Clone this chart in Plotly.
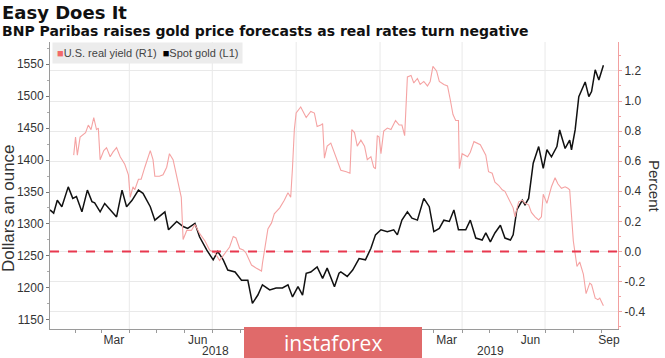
import plotly.graph_objects as go

# ---------------- data ----------------
gold_dates = [
    "2018-01-04", "2018-01-08", "2018-01-12", "2018-01-17", "2018-01-24", "2018-01-29",
    "2018-02-02", "2018-02-08", "2018-02-14", "2018-02-19", "2018-02-22", "2018-02-28",
    "2018-03-05", "2018-03-11", "2018-03-18", "2018-03-24", "2018-03-29", "2018-04-04",
    "2018-04-11", "2018-04-16", "2018-04-24", "2018-04-29", "2018-05-10", "2018-05-14",
    "2018-05-23", "2018-05-30", "2018-06-04", "2018-06-12", "2018-06-17", "2018-06-25",
    "2018-07-02", "2018-07-07", "2018-07-13", "2018-07-18", "2018-07-26", "2018-08-02",
    "2018-08-09", "2018-08-14", "2018-08-20", "2018-08-25", "2018-09-02", "2018-09-09",
    "2018-09-16", "2018-09-22", "2018-09-27", "2018-10-03", "2018-10-08", "2018-10-12",
    "2018-10-17", "2018-10-24", "2018-10-30", "2018-11-04", "2018-11-12", "2018-11-17",
    "2018-11-19", "2018-11-26", "2018-12-02", "2018-12-09", "2018-12-16", "2018-12-22",
    "2018-12-27", "2019-01-02", "2019-01-09", "2019-01-16", "2019-01-20", "2019-01-25",
    "2019-01-31", "2019-02-05", "2019-02-11", "2019-02-18", "2019-02-24", "2019-03-01",
    "2019-03-07", "2019-03-12", "2019-03-18", "2019-03-23", "2019-03-28", "2019-04-05",
    "2019-04-10", "2019-04-16", "2019-04-23", "2019-04-27", "2019-05-02", "2019-05-07",
    "2019-05-13", "2019-05-18", "2019-05-24", "2019-05-27", "2019-05-31", "2019-06-06",
    "2019-06-09", "2019-06-13", "2019-06-16", "2019-06-18", "2019-06-24", "2019-06-29",
    "2019-07-03", "2019-07-08", "2019-07-14", "2019-07-17", "2019-07-23", "2019-07-28",
    "2019-07-30", "2019-08-03", "2019-08-07", "2019-08-10", "2019-08-14", "2019-08-18",
    "2019-08-21", "2019-08-25", "2019-08-29", "2019-09-03",
]
gold_values = [
    1322, 1317, 1337, 1327, 1358, 1340,
    1343, 1319, 1353, 1335, 1333, 1319,
    1332, 1322, 1311, 1353, 1327, 1337,
    1353, 1348, 1327, 1306, 1319, 1291,
    1304, 1296, 1293, 1301, 1280, 1259,
    1244, 1257, 1244, 1228, 1225, 1212,
    1212, 1176, 1189, 1205, 1197, 1200,
    1200, 1205, 1186, 1202, 1189, 1223,
    1225, 1233, 1215, 1231, 1202, 1223,
    1225, 1218, 1228, 1246, 1244, 1262,
    1283, 1291, 1288, 1291, 1283, 1306,
    1319, 1309, 1306, 1340, 1327, 1288,
    1293, 1306, 1304, 1322, 1291, 1291,
    1306, 1278, 1275, 1286, 1272, 1286,
    1298, 1278, 1275, 1283, 1322, 1337,
    1330, 1340, 1374, 1395, 1421, 1387,
    1416, 1405, 1421, 1447, 1418, 1431,
    1416, 1447, 1499, 1509, 1522, 1499,
    1507, 1541, 1525, 1548,
]

yield_dates = [
    "2018-01-30", "2018-02-01", "2018-02-03", "2018-02-06", "2018-02-12", "2018-02-15",
    "2018-02-18", "2018-02-21", "2018-02-24", "2018-02-26", "2018-02-28", "2018-03-04",
    "2018-03-07", "2018-03-11", "2018-03-14", "2018-03-18", "2018-03-22", "2018-03-24",
    "2018-03-27", "2018-03-31", "2018-04-02", "2018-04-05", "2018-04-07", "2018-04-11",
    "2018-04-14", "2018-04-18", "2018-04-24", "2018-04-27", "2018-04-29", "2018-05-04",
    "2018-05-08", "2018-05-12", "2018-05-15", "2018-05-19", "2018-05-23", "2018-05-26",
    "2018-05-28", "2018-05-30", "2018-06-03", "2018-06-08", "2018-06-12", "2018-06-17",
    "2018-06-23", "2018-06-28", "2018-07-04", "2018-07-09", "2018-07-15", "2018-07-20",
    "2018-07-24", "2018-07-27", "2018-07-31", "2018-08-04", "2018-08-07", "2018-08-13",
    "2018-08-18", "2018-08-24", "2018-08-25", "2018-08-31", "2018-09-04", "2018-09-07",
    "2018-09-13", "2018-09-18", "2018-09-22", "2018-09-25", "2018-09-27", "2018-09-29",
    "2018-10-01", "2018-10-06", "2018-10-12", "2018-10-17", "2018-10-21", "2018-10-24",
    "2018-10-28", "2018-10-30", "2018-11-01", "2018-11-04", "2018-11-08", "2018-11-12",
    "2018-11-15", "2018-11-19", "2018-11-25", "2018-11-29", "2018-12-01", "2018-12-04",
    "2018-12-07", "2018-12-11", "2018-12-15", "2018-12-18", "2018-12-22", "2018-12-25",
    "2018-12-27", "2018-12-29", "2018-12-31", "2019-01-02", "2019-01-05", "2019-01-09",
    "2019-01-13", "2019-01-18", "2019-01-22", "2019-01-25", "2019-01-28", "2019-01-31",
    "2019-02-04", "2019-02-07", "2019-02-11", "2019-02-14", "2019-02-18", "2019-02-22",
    "2019-02-25", "2019-02-28", "2019-03-04", "2019-03-07", "2019-03-12", "2019-03-16",
    "2019-03-19", "2019-03-22", "2019-03-25", "2019-03-28", "2019-03-29", "2019-04-01",
    "2019-04-07", "2019-04-10", "2019-04-14", "2019-04-17", "2019-04-21", "2019-04-27",
    "2019-04-30", "2019-05-04", "2019-05-07", "2019-05-11", "2019-05-15", "2019-05-18",
    "2019-05-22", "2019-05-27", "2019-05-29", "2019-06-02", "2019-06-06", "2019-06-09",
    "2019-06-13", "2019-06-16", "2019-06-20", "2019-06-24", "2019-06-27", "2019-06-29",
    "2019-07-03", "2019-07-05", "2019-07-08", "2019-07-12", "2019-07-15", "2019-07-19",
    "2019-07-23", "2019-07-26", "2019-07-28", "2019-08-01", "2019-08-05", "2019-08-08",
    "2019-08-12", "2019-08-15", "2019-08-19", "2019-08-21", "2019-08-25", "2019-08-28",
    "2019-08-30", "2019-09-03",
]
yield_values = [
    0.64, 0.76, 0.64, 0.76, 0.79, 0.84,
    0.81, 0.89, 0.81, 0.82, 0.61, 0.67,
    0.69, 0.63, 0.66, 0.69, 0.63, 0.61,
    0.58, 0.51, 0.36, 0.43, 0.41, 0.48,
    0.48, 0.56, 0.67, 0.61, 0.50, 0.50,
    0.51, 0.56, 0.65, 0.61, 0.50, 0.41,
    0.36, 0.08, 0.14, 0.14, 0.18, 0.12,
    0.07, 0.01, -0.01, -0.06, -0.01, 0.03,
    0.10, 0.09, 0.02, 0.01, -0.01, -0.09,
    -0.11, -0.13, -0.08, 0.15, 0.19, 0.25,
    0.29, 0.34, 0.39, 0.36, 0.56, 0.81,
    0.92, 0.96, 0.89, 0.93, 0.92, 0.83,
    0.84, 0.85, 0.62, 0.70, 0.72, 0.65,
    0.60, 0.54, 0.53, 0.52, 0.81, 0.79,
    0.70, 0.74, 0.70, 0.61, 0.63, 0.56,
    0.55, 0.77, 0.76, 0.65, 0.80, 0.82,
    0.81, 0.87, 0.84, 0.84, 0.77, 1.16,
    1.17, 1.12, 1.15, 1.11, 1.13, 1.10,
    1.13, 1.23, 1.20, 1.13, 1.11, 1.10,
    1.01, 0.91, 0.87, 0.87, 0.55, 0.65,
    0.63, 0.66, 0.73, 0.72, 0.71, 0.64,
    0.53, 0.52, 0.46, 0.44, 0.41, 0.40,
    0.35, 0.29, 0.23, 0.33, 0.34, 0.32,
    0.31, 0.26, 0.23, 0.21, 0.23, 0.38,
    0.32, 0.36, 0.43, 0.49, 0.45, 0.42,
    0.43, 0.42, 0.41, 0.07, -0.10, -0.07,
    -0.15, -0.28, -0.21, -0.22, -0.31, -0.32,
    -0.31, -0.36,
]

# visible month labels (Sep/Dec 2018 are hidden behind the watermark in the reference)
month_label_dates = ["2018-03-15", "2018-06-15", "2019-03-15", "2019-06-15", "2019-09-09"]
month_labels = ["Mar", "Jun", "Mar", "Jun", "Sep"]
year_label_dates = ["2018-07-04", "2019-05-02"]
year_labels = ["2018", "2019"]
quarter_starts = ["2018-04-01", "2018-07-01", "2018-10-01", "2019-01-01",
                  "2019-04-01", "2019-07-01"]
left_ticks = [1150, 1200, 1250, 1300, 1350, 1400, 1450, 1500, 1550]
right_ticks = [-0.4, -0.2, 0.0, 0.2, 0.4, 0.6, 0.8, 1.0, 1.2]
right_tick_text = ["-0.4", "-0.2", "0.0", "0.2", "0.4", "0.6", "0.8", "1.0", "1.2"]

FONT = "Liberation Sans, Arial, sans-serif"
HEAD_FONT = "DejaVu Sans, Verdana, sans-serif"
PINK_LINE = "#f5a3a3"
PINK_AXIS = "#f2a0a0"
GRID = "#e9e9e9"
TXT = "#333333"

fig = go.Figure()
fig.add_trace(go.Scatter(x=yield_dates, y=yield_values, yaxis="y2", mode="lines",
                         line=dict(color=PINK_LINE, width=1.1), name="U.S. real yield (R1)",
                         showlegend=False))
fig.add_trace(go.Scatter(x=gold_dates, y=gold_values, yaxis="y", mode="lines",
                         line=dict(color="#111111", width=1.5), name="Spot gold (L1)",
                         showlegend=False))

shapes = []
for q in quarter_starts:
    shapes.append(dict(type="line", xref="x", yref="paper", x0=q, x1=q, y0=0, y1=1,
                       line=dict(color=GRID, width=1), layer="below"))
# zero line on the right axis
shapes.append(dict(type="line", xref="paper", yref="y2", x0=0, x1=1, y0=0, y1=0,
                   line=dict(color="#e8384f", width=2.2, dash="dash"), layer="above"))
# watermark box
shapes.append(dict(type="rect", xref="paper", yref="paper",
                   x0=(244 - 50) / 568, x1=(422 - 50) / 568,
                   y0=(329 - 360) / 287, y1=(329 - 327) / 287,
                   fillcolor="#e06a6a", line=dict(width=0), layer="above"))

annotations = [
    dict(text="<b>Easy Does It</b>", xref="paper", yref="paper", x=-50 / 568, y=1 + 29 / 287,
         xanchor="left", yanchor="middle", showarrow=False,
         font=dict(family=HEAD_FONT, size=18, color="#111")),
    dict(text="<b>BNP Paribas raises gold price forecasts as real rates turn negative</b>",
         xref="paper", yref="paper", x=-50 / 568, y=1 + 11 / 287,
         xanchor="left", yanchor="middle", showarrow=False,
         font=dict(family=HEAD_FONT, size=14, color="#111")),
    dict(text="<span style='color:#f26a6a'>■</span>U.S. real yield (R1)  "
              "<span style='color:#000'>■</span>Spot gold (L1)",
         xref="paper", yref="paper", x=2 / 568, y=1, xanchor="left", yanchor="top",
         showarrow=False, bgcolor="#ececec", borderpad=4,
         font=dict(family=FONT, size=11, color="#444")),
    dict(text="Dollars an ounce", xref="paper", yref="paper", x=-42 / 568, y=(329 - 208) / 287,
         xanchor="center", yanchor="middle", textangle=-90, showarrow=False,
         font=dict(family=FONT, size=17, color=TXT)),
    dict(text="Percent", xref="paper", yref="paper", x=1 + 37 / 568, y=(329 - 186) / 287,
         xanchor="center", yanchor="middle", textangle=90, showarrow=False,
         font=dict(family=FONT, size=15, color=TXT)),
    dict(text="instaforex", xref="paper", yref="paper", x=(333 - 50) / 568,
         y=(329 - 343) / 287, xanchor="center", yanchor="middle", showarrow=False,
         font=dict(family="Open Sans, sans-serif", size=21, color="#ffffff")),
]
for d, t in zip(year_label_dates, year_labels):
    annotations.append(dict(text=t, xref="x", yref="paper", x=d, y=(329 - 351) / 287,
                            xanchor="center", yanchor="middle", showarrow=False,
                            font=dict(family=FONT, size=12, color=TXT)))

fig.update_layout(
    width=665, height=358,
    margin=dict(l=50, r=47, t=42, b=29),
    paper_bgcolor="white", plot_bgcolor="white",
    font=dict(family=FONT, size=12, color=TXT),
    showlegend=False,
    xaxis=dict(
        type="date", range=["2018-01-04", "2019-09-19"],
        tickvals=month_label_dates, ticktext=month_labels, ticks="",
        showgrid=False, zeroline=False,
        showline=True, linecolor="#9a9a9a", linewidth=1,
        tickfont=dict(family=FONT, size=12, color=TXT),
        minor=dict(dtick="M1", tick0="2018-01-01", ticks="outside", ticklen=3,
                   tickcolor="#9a9a9a", showgrid=False),
    ),
    yaxis=dict(
        range=[1135.9, 1584.4], tickvals=left_ticks, ticks="outside", ticklen=3,
        tickcolor="#777", showgrid=False, zeroline=False,
        showline=True, linecolor="#9a9a9a", linewidth=1,
        tickfont=dict(family=FONT, size=12, color=TXT),
        minor=dict(dtick=25, ticks="outside", ticklen=2, tickcolor="#aaa", showgrid=False),
    ),
    yaxis2=dict(
        overlaying="y", side="right", range=[-0.515, 1.392],
        tickvals=right_ticks, ticktext=right_tick_text, ticks="outside", ticklen=3,
        tickcolor=PINK_AXIS, showgrid=True, gridcolor=GRID, zeroline=False,
        showline=True, linecolor=PINK_AXIS, linewidth=1,
        tickfont=dict(family=FONT, size=12, color=TXT),
        minor=dict(dtick=0.1, ticks="outside", ticklen=2, tickcolor=PINK_AXIS, showgrid=False),
    ),
    shapes=shapes,
    annotations=annotations,
)

fig.write_html("out.html", config={"displayModeBar": False},
               post_script="document.body.style.margin='0';document.body.style.padding='0';")
